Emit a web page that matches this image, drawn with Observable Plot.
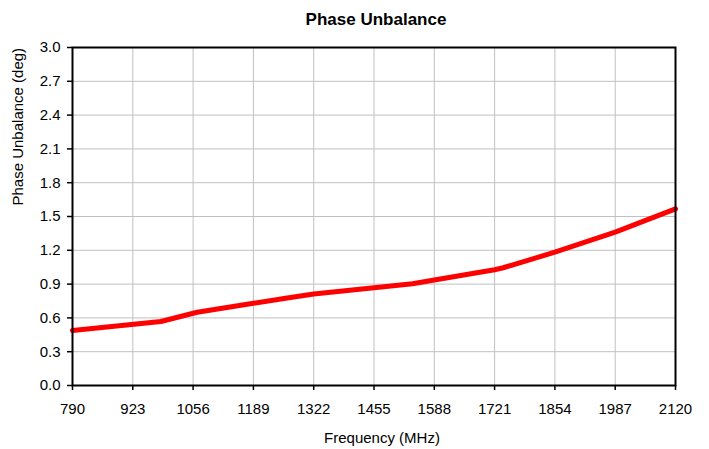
<!DOCTYPE html>
<html><head><meta charset="utf-8">
<script src="https://cdn.jsdelivr.net/npm/d3@7"></script>
<script src="https://cdn.jsdelivr.net/npm/@observablehq/plot@0.6"></script>
<style>
body{margin:0;background:#fff;font-family:"Liberation Sans",Arial,sans-serif;}
#title{height:38px;line-height:40px;font-weight:bold;font-size:17px;text-align:center;width:709px;padding-left:43px;box-sizing:border-box;overflow:hidden;}
</style></head><body>
<div id="title">Phase Unbalance</div>
<div id="chart"></div>
<script>
const freqs = [790, 985, 1065, 1189, 1260, 1322, 1455, 1540, 1588, 1721, 1740, 1854, 1987, 2120];
const phase = [0.488, 0.568, 0.650, 0.730, 0.775, 0.812, 0.868, 0.903, 0.936, 1.027, 1.045, 1.183, 1.361, 1.568];
const xTicks = [790, 923, 1056, 1189, 1322, 1455, 1588, 1721, 1854, 1987, 2120];
const yTicks = [0, 0.3, 0.6, 0.9, 1.2, 1.5, 1.8, 2.1, 2.4, 2.7, 3.0];
const xLabel = "Frequency (MHz)";
const yLabel = "Phase Unbalance (deg)";

const data = freqs.map((f, i) => ({f, v: phase[i]}));
const font = '"Liberation Sans", Arial, sans-serif';

const chart = Plot.plot({
  width: 709, height: 411,
  marginTop: 9, marginBottom: 64, marginLeft: 72, marginRight: 34,
  style: {fontFamily: font, fontSize: "15px", color: "#000", background: "#fff"},
  x: {domain: [790, 2120], label: null},
  y: {domain: [0, 3], label: null},
  marks: [
    Plot.ruleX(xTicks, {stroke: "#c0c0c0", strokeWidth: 1}),
    Plot.ruleY(yTicks, {stroke: "#c0c0c0", strokeWidth: 1}),
    Plot.line(data, {x: "f", y: "v", stroke: "#ff0000", strokeWidth: 5, curve: "linear"}),
    Plot.frame({stroke: "#000", strokeWidth: 2}),
    Plot.axisX({ticks: xTicks, tickFormat: d => String(d), tickSize: 5, tickPadding: 13, label: null, fontSize: 15, strokeWidth: 1.5}),
    Plot.axisY({ticks: yTicks, tickFormat: d => d.toFixed(1), tickSize: 5, tickPadding: 7, label: null, fontSize: 15, strokeWidth: 1.5}),
    Plot.text([xLabel], {frameAnchor: "bottom", lineAnchor: "bottom", dx: 8, dy: 57, fontSize: 15, fill: "#000"}),
    Plot.text([yLabel], {frameAnchor: "left", rotate: -90, lineAnchor: "bottom", dx: -50, dy: -11, fontSize: 15, fill: "#000"})
  ]
});
document.getElementById("chart").appendChild(chart);
</script>
</body></html>
